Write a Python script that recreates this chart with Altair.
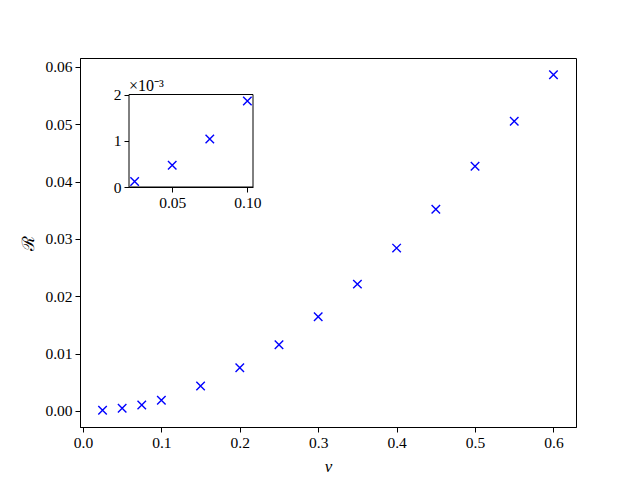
import altair as alt
import pandas as pd

# data
v_values = [0.025, 0.05, 0.075, 0.1, 0.15, 0.2, 0.25, 0.3, 0.35, 0.4, 0.45, 0.5, 0.55, 0.6]
R_values = [0.00012, 0.00047, 0.00104, 0.00186, 0.00434, 0.00753, 0.01153, 0.01644,
            0.02212, 0.02840, 0.03519, 0.04266, 0.05052, 0.05863]
inset_v = [0.025, 0.05, 0.075, 0.1]
inset_R = [0.00012, 0.00047, 0.00104, 0.00186]

main_x_ticks = [0.0, 0.1, 0.2, 0.3, 0.4, 0.5, 0.6]
main_y_ticks = [0.0, 0.01, 0.02, 0.03, 0.04, 0.05, 0.06]
inset_x_ticks = [0.05, 0.10]
inset_y_ticks = [0.0, 0.001, 0.002]

df = pd.DataFrame({"v": v_values, "R": R_values})
dfi = pd.DataFrame({"v": inset_v, "R": inset_R})

W, H = 496, 369
FONT = "Liberation Serif"
BLUE = "#0000ff"
XSHAPE = "M-1,-1L1,1M-1,1L1,-1"

main_x = alt.X("v:Q", scale=alt.Scale(domain=[-0.00375, 0.62875], nice=False, zero=False),
               axis=alt.Axis(values=main_x_ticks, format=".1f", title="v",
                             titleFontStyle="italic", titlePadding=8, titleFontSize=17))
main_y = alt.Y("R:Q", scale=alt.Scale(domain=[-0.0028, 0.06156], nice=False, zero=False),
               axis=alt.Axis(values=main_y_ticks, format=".2f", title="ℛ",
                             titleFont="DejaVu Serif", titleFontSize=17, titlePadding=7))

main = alt.Chart(df).mark_point(shape=XSHAPE, filled=False, color=BLUE,
                                strokeWidth=1.4, size=72, opacity=1).encode(x=main_x, y=main_y)

# inset
ix_dom = [0.02125, 0.10375]
iy_dom = [0.0, 0.002]
IL, IR, IT, IB = 49, 173, 36.5, 129

def ix(field=None, datum=None):
    sc = alt.Scale(domain=ix_dom, range=[IL, IR], nice=False, zero=False)
    ax = alt.Axis(orient="bottom", offset=-(H - IB), values=inset_x_ticks, format=".2f", title=None)
    if datum is not None:
        return alt.X(datum=datum, type="quantitative", scale=sc, axis=ax)
    return alt.X(field, type="quantitative", scale=sc, axis=ax)

def iy(field=None, datum=None):
    sc = alt.Scale(domain=iy_dom, range=[IB, IT], nice=False, zero=False)
    ax = alt.Axis(orient="left", offset=-IL, values=inset_y_ticks,
                  labelExpr="format(datum.value*1000, 'd')", title=None)
    if datum is not None:
        return alt.Y(datum=datum, type="quantitative", scale=sc, axis=ax)
    return alt.Y(field, type="quantitative", scale=sc, axis=ax)

frame = alt.Chart(pd.DataFrame({"a": [0]})).mark_rect(fill="white", stroke="black", strokeWidth=1).encode(
    x=ix(datum=ix_dom[0]), x2=alt.X2(datum=ix_dom[1]),
    y=iy(datum=iy_dom[0]), y2=alt.Y2(datum=iy_dom[1]))

ipts = alt.Chart(dfi).mark_point(shape=XSHAPE, filled=False, color=BLUE,
                                 strokeWidth=1.4, size=72, opacity=1).encode(x=ix("v"), y=iy("R"))

exp_text = alt.Chart(pd.DataFrame({"a": [0]})).mark_text(
    text="×10⁻³", align="left", baseline="bottom", dy=-1, font=FONT, fontSize=16, color="black"
).encode(x=ix(datum=ix_dom[0]), y=iy(datum=iy_dom[1]))

inset = alt.layer(frame, ipts, exp_text)

chart = alt.layer(main, inset).resolve_scale(x="independent", y="independent").properties(
    width=W, height=H,
    autosize=alt.AutoSizeParams(type="none"),
    padding={"left": 72, "top": 50, "right": 56, "bottom": 48},
).configure_view(stroke="black", strokeWidth=1).configure_axis(
    grid=False, domainColor="black", domainWidth=1, tickColor="black", tickWidth=1,
    tickSize=5, labelPadding=3, labelFont=FONT, labelFontSize=15.5, labelColor="black",
    titleFont=FONT, titleFontSize=16, titleColor="black", titleFontWeight="normal",
    labelFlush=False, labelOverlap=False,
)

chart.save("out.html", embed_options={"renderer": "svg", "actions": False})
